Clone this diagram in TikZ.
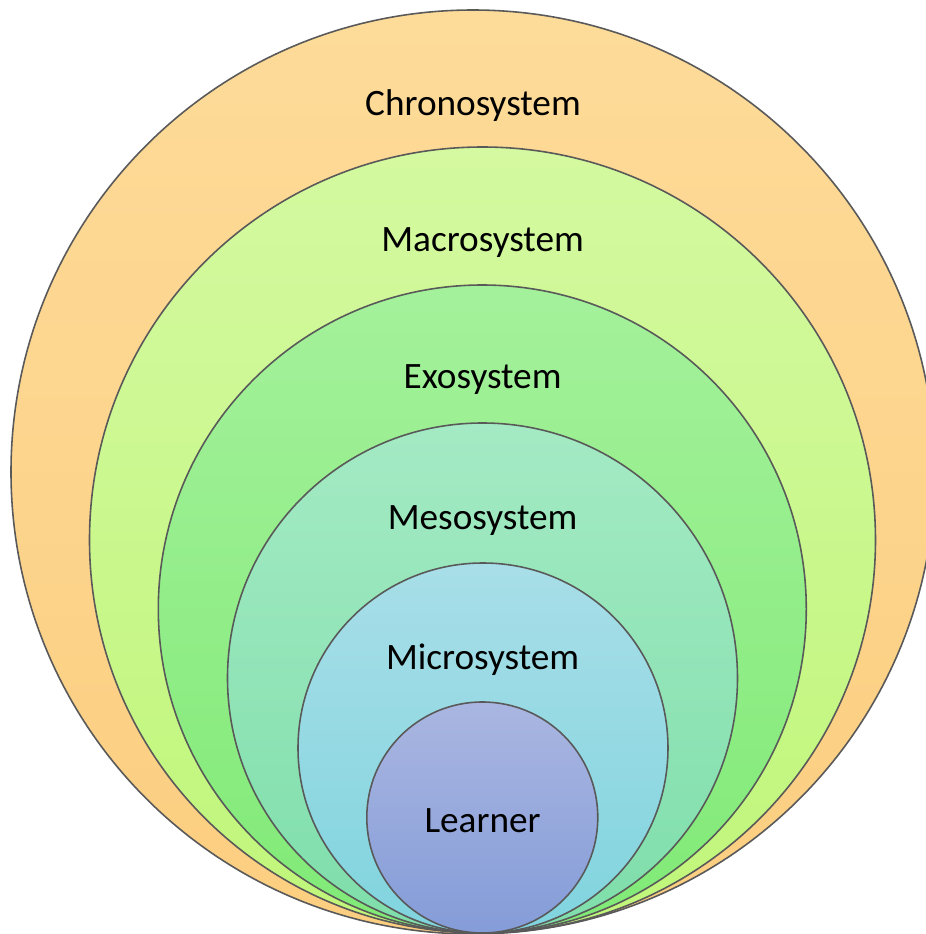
\documentclass[tikz,border=0pt]{standalone}
\usepackage{fontspec}
\setmainfont{Carlito}
\usetikzlibrary{shapes.geometric}

\definecolor{chronotop}{RGB}{253,219,153}
\definecolor{chronobot}{RGB}{252,206,128}
\definecolor{macrotop}{RGB}{212,249,160}
\definecolor{macrobot}{RGB}{192,246,122}
\definecolor{exotop}{RGB}{164,241,155}
\definecolor{exobot}{RGB}{128,234,118}
\definecolor{mesotop}{RGB}{164,234,196}
\definecolor{mesobot}{RGB}{126,222,170}
\definecolor{microtop}{RGB}{168,222,232}
\definecolor{microbot}{RGB}{128,212,222}
\definecolor{learnertop}{RGB}{170,182,225}
\definecolor{learnerbot}{RGB}{132,156,216}

\tikzset{
  ring/.style={draw=black!65,line width=0.45pt,circle,inner sep=0pt,outer sep=0pt},
  ringtext/.style={font=\fontsize{10.6}{12}\selectfont,text=black}
}

\begin{document}
\begin{tikzpicture}
  \useasboundingbox (0,0) rectangle (9.26,9.34);
  \node[ring,top color=chronotop,bottom color=chronobot,minimum size=9.24cm] (chrono) at (4.73,4.62) {};
  \node[ring,top color=macrotop,bottom color=macrobot,minimum size=7.86cm] (macro) at (4.825,3.94) {};
  \node[ring,top color=exotop,bottom color=exobot,minimum size=6.48cm] (exo) at (4.823,3.25) {};
  \node[ring,top color=mesotop,bottom color=mesobot,minimum size=5.10cm] (meso) at (4.825,2.56) {};
  \node[ring,top color=microtop,bottom color=microbot,minimum size=3.70cm] (micro) at (4.83,1.86) {};
  \node[ring,top color=learnertop,bottom color=learnerbot,minimum size=2.31cm] (learner) at (4.823,1.165) {};
  \node[ringtext] (chronolabel) at (4.73,8.28) {Chronosystem};
  \node[ringtext] (macrolabel) at (4.826,6.91) {Macrosystem};
  \node[ringtext] (exolabel) at (4.826,5.54) {Exosystem};
  \node[ringtext] (mesolabel) at (4.826,4.13) {Mesosystem};
  \node[ringtext] (microlabel) at (4.826,2.74) {Microsystem};
  \node[ringtext] (learnerlabel) at (4.826,1.13) {Learner};
\end{tikzpicture}
\end{document}
